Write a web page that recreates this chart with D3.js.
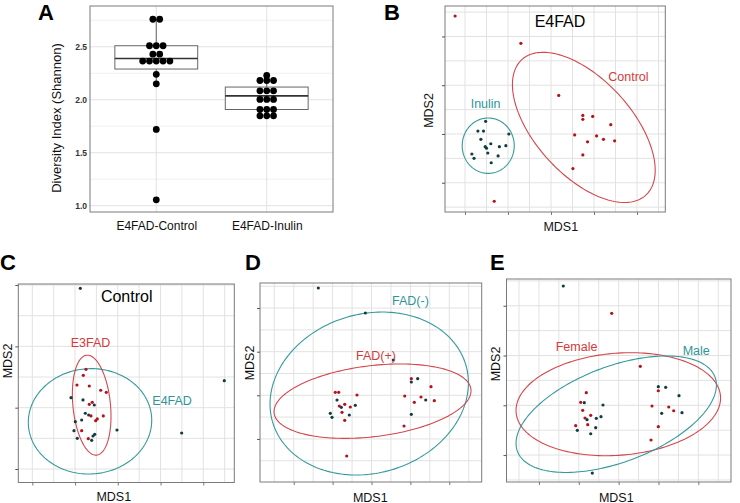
<!DOCTYPE html>
<html><head><meta charset="utf-8">
<script src="https://cdn.jsdelivr.net/npm/d3@7"></script>
<style>
html,body{margin:0;padding:0;background:#fff;}
svg{display:block;font-family:"Liberation Sans",Arial,sans-serif;}
</style></head>
<body>
<svg id="fig" width="740" height="503"></svg>
<script>
// ---------------- DATA ----------------
// Panel A: Shannon diversity
const boxGroups = ["E4FAD-Control", "E4FAD-Inulin"];
const controlShannon = [2.76, 2.76, 2.51, 2.51, 2.51, 2.43, 2.43, 2.365, 2.365, 2.365, 2.365, 2.365, 2.24, 2.15, 1.72, 1.055];
const inulinShannon = [2.229, 2.182, 2.182, 2.182, 2.084, 2.084, 2.084, 2.003, 2.003, 2.003, 1.908, 1.908, 1.908, 1.848, 1.848, 1.848];
const boxQ1 = [2.29, 1.908];
const boxMedian = [2.39, 2.037];
const boxQ3 = [2.51, 2.12];
const whiskerLow = [2.15, 1.848];
const whiskerHigh = [2.76, 2.229];
const yTicksA = [1.0, 1.5, 2.0, 2.5];

// Panel B: E4FAD  (MDS1, MDS2)
const bInulin = [[-0.152,0.026],[-0.170,0.006],[-0.157,0.006],[-0.098,0.000],[-0.163,-0.011],[-0.140,-0.020],[-0.153,-0.026],[-0.150,-0.029],[-0.120,-0.026],[-0.105,-0.024],[-0.147,-0.039],[-0.184,-0.041],[-0.179,-0.050],[-0.123,-0.045],[-0.139,-0.059]];
const bControl = [[-0.223,0.242],[-0.070,0.186],[0.018,0.079],[0.074,0.038],[0.074,0.030],[0.097,0.036],[0.139,0.019],[0.055,-0.002],[0.106,-0.004],[0.122,-0.011],[0.148,-0.014],[0.085,-0.016],[0.074,-0.043],[0.051,-0.071],[-0.132,-0.138]];
// ellipses: [cx, cy, sx, sy, rho]
const bInulinEllipse = [-0.146, -0.024, 0.0605, 0.0568, 0.0];
const bControlEllipse = [0.0763, 0.0135, 0.166, 0.154, -0.57];

// Panel C: Control
const cE4FAD = [[-0.0877,0.1947],[0.2492,0.0440],[-0.1095,0.0163],[-0.0814,0.0126],[-0.0550,0.0044],[-0.0760,-0.0091],[-0.0681,-0.0119],[-0.0845,-0.0201],[-0.0994,-0.0228],[-0.1025,-0.0375],[-0.0019,-0.0364],[0.1495,-0.0413],[-0.0540,-0.0434],[-0.0580,-0.0462],[-0.0948,-0.0499],[-0.0611,-0.0532]];
const cE3FAD = [[-0.0744,0.0626],[-0.0807,0.0528],[-0.0955,0.0370],[-0.0667,0.0354],[-0.0400,0.0284],[-0.0269,0.0251],[-0.0597,0.0088],[-0.0667,0.0055],[-0.0627,-0.0135],[-0.0339,-0.0135],[-0.0480,-0.0184],[-0.0517,-0.0212],[-0.0845,-0.0375],[-0.0690,-0.0506]];
const cE4FADEllipse = [-0.0650, -0.0222, 0.1444, 0.0859, 0.02];
const cE3FADEllipse = [-0.0611, 0.0041, 0.0452, 0.0815, -0.22];

// Panel D: FAD(-) vs FAD(+)
const dFADneg = [[-0.1368,0.2460],[-0.0159,0.1887],[0.0561,0.0809],[0.1188,0.0381],[0.1024,0.0305],[-0.0887,-0.0108],[0.1394,-0.0108],[-0.0777,-0.0275],[-0.0417,-0.0229],[-0.0571,-0.0452],[-0.1060,-0.0413],[-0.1016,-0.0504],[0.1024,-0.0436]];
const dFADpos = [[0.1024,0.0381],[0.1530,0.0197],[-0.0931,0.0069],[-0.0844,0.0069],[-0.0373,0.0007],[0.0854,-0.0016],[0.1273,-0.0039],[0.1615,-0.0124],[0.1101,-0.0160],[-0.0689,-0.0206],[-0.0828,-0.0245],[-0.0545,-0.0268],[-0.0759,-0.0390],[-0.0689,-0.0573],[0.0836,-0.0704],[-0.0638,-0.1392]];
const dFADnegEllipse = [-0.0059, 0.0041, 0.2551, 0.1868, 0.13];
const dFADposEllipse = [0.0026, -0.0135, 0.2533, 0.0853, 0.28];

// Panel E: Male vs Female
const eMale = [[-0.1389,0.2397],[0.0995,0.0374],[0.1180,0.0362],[0.1514,0.0193],[-0.0862,0.0052],[-0.0393,0.0006],[0.1080,-0.0161],[0.1589,-0.0149],[-0.0443,-0.0229],[-0.0561,-0.0261],[-0.0794,-0.0289],[-0.0576,-0.0450],[-0.1037,-0.0502],[-0.0701,-0.0571],[-0.0661,-0.1361]];
const eFemale = [[-0.0174,0.1849],[0.0543,0.0784],[0.0995,0.0293],[-0.0812,0.0253],[-0.0952,0.0060],[0.0837,-0.0014],[0.1256,-0.0034],[0.1381,-0.0109],[-0.0902,-0.0100],[-0.0701,-0.0201],[-0.0844,-0.0255],[-0.0776,-0.0390],[-0.1078,-0.0410],[0.0995,-0.0430],[0.0812,-0.0697]];
const eMaleEllipse = [-0.0061, -0.0179, 0.2514, 0.1170, 0.50];
const eFemaleEllipse = [-0.0009, 0.0022, 0.2566, 0.1035, 0.12];

// ---------------- STYLE / LAYOUT ----------------
const RED_PT = "#b3141c", TEAL_PT = "#113d42";
const RED_LN = "#d3474d", TEAL_LN = "#34999b";
const RED_TX = "#d43a3a", TEAL_TX = "#2f9597";
const GRID = "#e2e2e2", FRAME = "#7a7a7a";
const FONT = '"Liberation Sans", Arial, sans-serif';

const svg = d3.select("#fig");

function letter(t, x, y) {
  svg.append("text").attr("x", x).attr("y", y).attr("font-size", 22).attr("font-weight", "bold")
    .attr("fill", "#000").text(t);
}

// ---------------- PANEL A ----------------
(function () {
  const f = {x0: 90, x1: 333, y0: 6, y1: 212};
  const x = d3.scalePoint().domain(boxGroups).range([f.x0, f.x1]).padding(0.6);
  const y = d3.scaleLinear().domain([0.9405, 2.885]).range([f.y1, f.y0]);
  const g = svg.append("g");
  // minor grid
  const minor = yTicksA.map(v => v + 0.25);
  g.selectAll(".mn").data(minor).join("line")
    .attr("x1", f.x0).attr("x2", f.x1).attr("y1", d => y(d)).attr("y2", d => y(d))
    .attr("stroke", "#ececec").attr("stroke-width", 0.8);
  g.selectAll(".mj").data(yTicksA).join("line")
    .attr("x1", f.x0).attr("x2", f.x1).attr("y1", d => y(d)).attr("y2", d => y(d))
    .attr("stroke", GRID).attr("stroke-width", 1);
  g.selectAll(".vx").data(boxGroups).join("line")
    .attr("x1", d => x(d)).attr("x2", d => x(d)).attr("y1", f.y0).attr("y2", f.y1)
    .attr("stroke", GRID).attr("stroke-width", 1);
  // y axis labels
  const ax = svg.append("g").attr("transform", `translate(${f.x0},0)`)
    .call(d3.axisLeft(y).tickValues(yTicksA).tickFormat(d3.format(".1f")).tickSize(0).tickPadding(3));
  ax.select(".domain").remove();
  ax.selectAll("text").attr("font-size", 8.5).attr("font-weight", "bold").attr("fill", "#333").attr("font-family", FONT);
  // x labels
  const axx = svg.append("g").attr("transform", `translate(0,${f.y1})`)
    .call(d3.axisBottom(x).tickSize(0).tickPadding(9));
  axx.select(".domain").remove();
  axx.selectAll("text").attr("font-size", 12).attr("fill", "#111").attr("font-family", FONT);
  // boxes
  const bw = x.step() * 0.75;
  boxGroups.forEach((grp, i) => {
    const cx = x(grp);
    g.append("line").attr("x1", cx).attr("x2", cx).attr("y1", y(whiskerHigh[i])).attr("y2", y(boxQ3[i]))
      .attr("stroke", "#666").attr("stroke-width", 1);
    g.append("line").attr("x1", cx).attr("x2", cx).attr("y1", y(boxQ1[i])).attr("y2", y(whiskerLow[i]))
      .attr("stroke", "#666").attr("stroke-width", 1);
    g.append("rect").attr("x", cx - bw / 2).attr("width", bw).attr("y", y(boxQ3[i]))
      .attr("height", y(boxQ1[i]) - y(boxQ3[i])).attr("fill", "#fff").attr("stroke", "#666").attr("stroke-width", 1);
    g.append("line").attr("x1", cx - bw / 2).attr("x2", cx + bw / 2).attr("y1", y(boxMedian[i])).attr("y2", y(boxMedian[i]))
      .attr("stroke", "#333").attr("stroke-width", 1.6);
  });
  // dots (centered stacks)
  const r = 3.4;
  [controlShannon, inulinShannon].forEach((vals, i) => {
    const cx = x(boxGroups[i]);
    const rows = d3.group(vals, v => v);
    rows.forEach((arr, v) => {
      arr.forEach((_, k) => {
        g.append("circle").attr("cx", cx + (k - (arr.length - 1) / 2) * 2 * r).attr("cy", y(v))
          .attr("r", r).attr("fill", "#000");
      });
    });
  });
  g.append("rect").attr("x", f.x0).attr("y", f.y0).attr("width", f.x1 - f.x0).attr("height", f.y1 - f.y0)
    .attr("fill", "none").attr("stroke", FRAME).attr("stroke-width", 1);
  svg.append("text").attr("transform", `translate(61,118) rotate(-90)`).attr("text-anchor", "middle")
    .attr("font-size", 13).attr("fill", "#111").text("Diversity Index (Shannon)");
  letter("A", 38, 19.5);
})();

// ---------------- MDS PANELS ----------------
function ellipsePts(e) {
  const [cx, cy, sx, sy, rho] = e;
  const q = Math.sqrt(1 - rho * rho);
  return d3.range(0, 201).map(i => {
    const t = i / 200 * 2 * Math.PI;
    return [cx + sx * Math.cos(t), cy + sy * (rho * Math.cos(t) + q * Math.sin(t))];
  });
}

let clipId = 0;
function mdsPanel(cfg) {
  const f = cfg.frame;
  const x = d3.scaleLinear().domain(cfg.xDomain).range([f.x0, f.x1]);
  const y = d3.scaleLinear().domain(cfg.yDomain).range([f.y1, f.y0]);
  const g = svg.append("g");
  const id = "clip" + (clipId++);
  svg.append("clipPath").attr("id", id).append("rect")
    .attr("x", f.x0).attr("y", f.y0).attr("width", f.x1 - f.x0).attr("height", f.y1 - f.y0);
  const step = 0.05;
  const xg = d3.range(Math.ceil(cfg.xDomain[0] / step - 1e-6), Math.floor(cfg.xDomain[1] / step + 1e-6) + 1).map(k => k * step);
  const yg = d3.range(Math.ceil(cfg.yDomain[0] / step - 1e-6), Math.floor(cfg.yDomain[1] / step + 1e-6) + 1).map(k => k * step);
  g.selectAll(".gx").data(xg).join("line")
    .attr("x1", d => x(d)).attr("x2", d => x(d)).attr("y1", f.y0).attr("y2", f.y1)
    .attr("stroke", GRID).attr("stroke-width", 1);
  g.selectAll(".gy").data(yg).join("line")
    .attr("x1", f.x0).attr("x2", f.x1).attr("y1", d => y(d)).attr("y2", d => y(d))
    .attr("stroke", GRID).attr("stroke-width", 1);
  // ticks at majors
  const isMajor = d => Math.abs(Math.round(d / 0.1) * 0.1 - d) < 1e-6;
  const axL = svg.append("g").attr("transform", `translate(${f.x0},0)`)
    .call(d3.axisLeft(y).tickValues(yg.filter(isMajor)).tickSize(3).tickFormat(""));
  axL.select(".domain").remove();
  axL.selectAll("line").attr("stroke", "#555");
  const axB = svg.append("g").attr("transform", `translate(0,${f.y1})`)
    .call(d3.axisBottom(x).tickValues(xg.filter(isMajor)).tickSize(3).tickFormat(""));
  axB.select(".domain").remove();
  axB.selectAll("line").attr("stroke", "#777");
  // ellipses
  const line = d3.line().x(d => x(d[0])).y(d => y(d[1]));
  const eg = g.append("g").attr("clip-path", `url(#${id})`);
  cfg.ellipses.forEach(e => {
    eg.append("path").attr("d", line(ellipsePts(e.params))).attr("fill", "none")
      .attr("stroke", e.color).attr("stroke-width", 1.1);
  });
  // points
  cfg.series.forEach(s => {
    g.selectAll(null).data(s.data).join("circle")
      .attr("cx", d => x(d[0])).attr("cy", d => y(d[1])).attr("r", 1.6).attr("fill", s.color);
  });
  g.append("rect").attr("x", f.x0).attr("y", f.y0).attr("width", f.x1 - f.x0).attr("height", f.y1 - f.y0)
    .attr("fill", "none").attr("stroke", FRAME).attr("stroke-width", 1);
  // labels
  cfg.labels.forEach(l => {
    svg.append("text").attr("x", l.x).attr("y", l.y).attr("font-size", l.size || 12.5)
      .attr("fill", l.color).attr("text-anchor", l.anchor || "start").text(l.text);
  });
  svg.append("text").attr("x", cfg.mds1[0]).attr("y", cfg.mds1[1]).attr("text-anchor", "middle")
    .attr("font-size", 12.5).attr("fill", "#111").text("MDS1");
  svg.append("text").attr("transform", `translate(${cfg.mds2[0]},${cfg.mds2[1]}) rotate(-90)`)
    .attr("text-anchor", "middle").attr("font-size", 12.5).attr("fill", "#111").text("MDS2");
  letter(cfg.letter[0], cfg.letter[1], cfg.letter[2]);
}

mdsPanel({
  frame: {x0: 445, x1: 665.3, y0: 6, y1: 212},
  xDomain: [-0.2465, 0.2658], yDomain: [-0.16, 0.2625],
  ellipses: [{params: bInulinEllipse, color: TEAL_LN}, {params: bControlEllipse, color: RED_LN}],
  series: [{data: bControl, color: RED_PT}, {data: bInulin, color: TEAL_PT}],
  labels: [
    {text: "E4FAD", x: 560, y: 26.7, size: 16, color: "#000", anchor: "middle"},
    {text: "Control", x: 608.3, y: 81, color: RED_TX},
    {text: "Inulin", x: 470.7, y: 108.3, color: TEAL_TX}
  ],
  mds1: [560.8, 230.7], mds2: [432.5, 110.5], letter: ["B", 384, 19.5]
});

mdsPanel({
  frame: {x0: 18.3, x1: 234.3, y0: 284, y1: 482.5},
  xDomain: [-0.2328, 0.2726], yDomain: [-0.122, 0.2017],
  ellipses: [{params: cE4FADEllipse, color: TEAL_LN}, {params: cE3FADEllipse, color: RED_LN}],
  series: [{data: cE4FAD, color: TEAL_PT}, {data: cE3FAD, color: RED_PT}],
  labels: [
    {text: "Control", x: 126.7, y: 302, size: 16, color: "#000", anchor: "middle"},
    {text: "E3FAD", x: 70.7, y: 347.3, color: RED_TX},
    {text: "E4FAD", x: 152.3, y: 405, color: TEAL_TX}
  ],
  mds1: [113.8, 501], mds2: [11.5, 361], letter: ["C", 0, 270]
});

mdsPanel({
  frame: {x0: 260, x1: 481.7, y0: 283, y1: 482},
  xDomain: [-0.2868, 0.2834], yDomain: [-0.1988, 0.2575],
  ellipses: [{params: dFADnegEllipse, color: TEAL_LN}, {params: dFADposEllipse, color: RED_LN}],
  series: [{data: dFADneg, color: TEAL_PT}, {data: dFADpos, color: RED_PT}],
  labels: [
    {text: "FAD(-)", x: 392, y: 305, color: TEAL_TX},
    {text: "FAD(+)", x: 356, y: 359.5, color: RED_TX}
  ],
  mds1: [370.3, 501.5], mds2: [253.5, 363], letter: ["D", 245, 270]
});

mdsPanel({
  frame: {x0: 506.5, x1: 731, y0: 279, y1: 482},
  xDomain: [-0.2814, 0.2819], yDomain: [-0.1541, 0.2538],
  ellipses: [{params: eFemaleEllipse, color: RED_LN}, {params: eMaleEllipse, color: TEAL_LN}],
  series: [{data: eMale, color: TEAL_PT}, {data: eFemale, color: RED_PT}],
  labels: [
    {text: "Female", x: 555.7, y: 351, color: RED_TX},
    {text: "Male", x: 682.7, y: 355.3, color: TEAL_TX}
  ],
  mds1: [616.3, 501.5], mds2: [499.5, 364], letter: ["E", 490, 270]
});
</script>
</body></html>
